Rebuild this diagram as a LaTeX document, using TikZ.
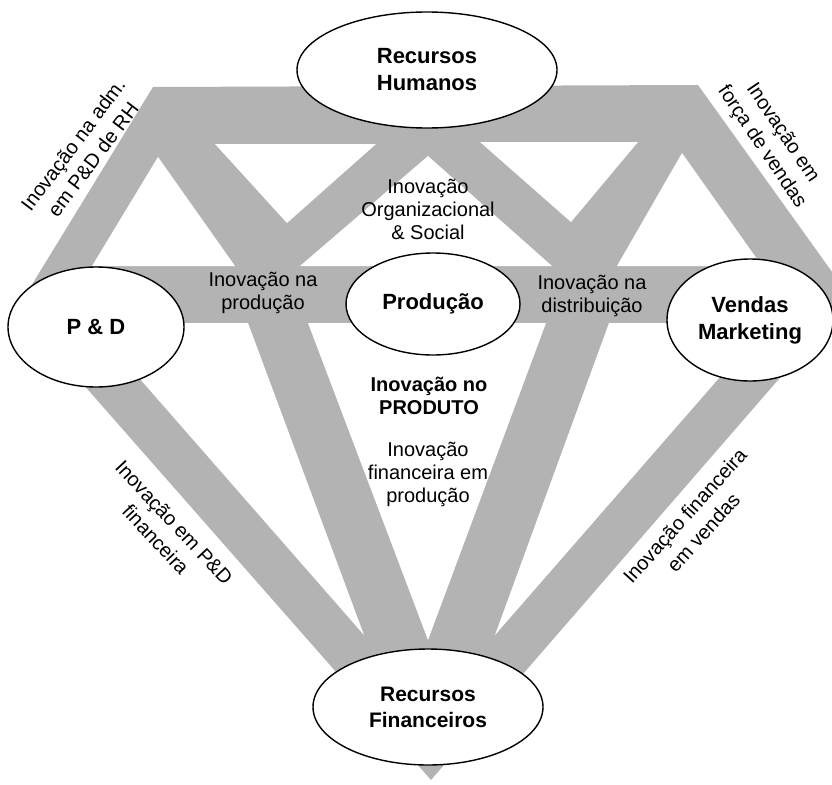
\documentclass[tikz,border=0pt]{standalone}
\usepackage{fontspec}
\setmainfont{Liberation Sans}
\usetikzlibrary{shapes.geometric}
\definecolor{gemgray}{RGB}{179,179,179}
\tikzset{
  resnode/.style={draw=black, line width=1.4pt, fill=white, ellipse, inner sep=0pt,
    font=\bfseries\fontsize{22}{27}\selectfont, align=center},
  lbl/.style={font=\fontsize{20}{23}\selectfont, align=center, inner sep=0pt},
  rotlbl/.style={font=\fontsize{20}{25}\selectfont, align=center, inner sep=0pt},
  boldlbl/.style={font=\bfseries\fontsize{20}{23}\selectfont, align=center, inner sep=0pt},
  hole/.style={fill=white, draw=none},
}
\begin{document}
\begin{tikzpicture}[x=1pt,y=-1pt]
\useasboundingbox (0,0) rectangle (832,784);
\clip (0,0) rectangle (832,784);
% gem body
\fill[gemgray] (153,87) -- (698,85) -- (850,297) -- (431,780) -- (17,309) -- cycle;
% crown holes
\fill[hole] (158,157) -- (92,266) -- (235,266) -- cycle;
\fill[hole] (215,144) -- (376,144) -- (287,223) -- cycle;
\fill[hole] (428,156) -- (300,266) -- (552,266) -- cycle;
\fill[hole] (480,142) -- (638,142) -- (571,222) -- cycle;
\fill[hole] (682,153) -- (617,266) -- (762,266) -- cycle;
% pavilion holes
\fill[hole] (91,323) -- (248,323) -- (364,635) -- cycle;
\fill[hole] (308,323) -- (546,323) -- (428,640) -- cycle;
\fill[hole] (609,323) -- (767,323) -- (495,635) -- cycle;

% resource ellipses
\node[resnode, minimum width=260pt, minimum height=116pt] (rh) at (427,70) {Recursos\\Humanos};
\node[resnode, minimum width=176pt, minimum height=120pt] (pd) at (96,327) {P \& D};
\node[resnode, minimum width=166pt, minimum height=122pt] (vm) at (750,320) {Vendas\\Marketing};
\node[resnode, minimum width=174pt, minimum height=102pt] (pr) at (433,304) {Produção};
\node[resnode, minimum width=230pt, minimum height=116pt, font=\bfseries\fontsize{21}{26}\selectfont] (rf) at (428,707) {Recursos\\Financeiros};

% labels
\node[lbl] (lprod) at (263,293) {Inovação na\\produção};
\node[lbl] (ldist) at (592,296) {Inovação na\\distribuição};
\node[lbl] (lorg) at (428,209) {Inovação\\Organizacional\\\& Social};
\node[boldlbl] (lproduto) at (429,396) {Inovação no\\PRODUTO};
\node[lbl] (lfinprod) at (428,474) {Inovação\\financeira em\\produção};

\node[rotlbl, rotate=53] (lrh) at (83,152) {Inovação na adm.\\em P\&D de RH};
\node[rotlbl, rotate=-56] (lvend) at (772,140) {Inovação em\\força de vendas};
\node[rotlbl, rotate=-47] (lpdfin) at (165,531) {Inovação em P\&D\\financeira};
\node[rotlbl, rotate=48] (lfinv) at (694,524) {Inovação financeira\\em vendas};
\end{tikzpicture}
\end{document}
